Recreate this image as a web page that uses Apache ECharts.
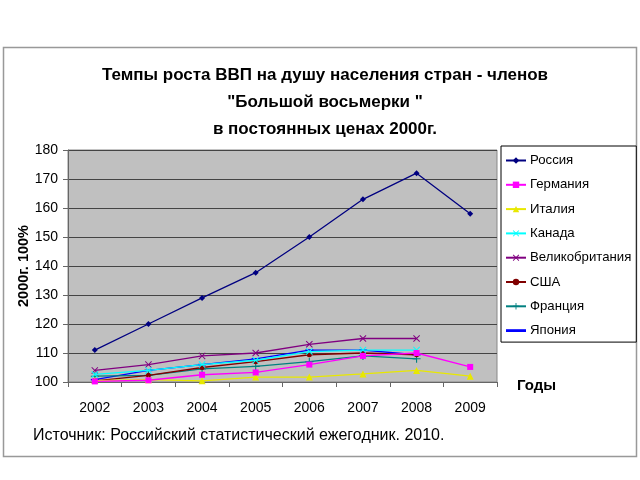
<!DOCTYPE html>
<html><head><meta charset="utf-8">
<script src="https://cdn.jsdelivr.net/npm/echarts@6/dist/echarts.min.js"></script>
<style>html,body{margin:0;padding:0;background:#fff}#c{width:640px;height:480px}</style>
</head><body><div id="c"></div>
<script>
const years = ['2002','2003','2004','2005','2006','2007','2008','2009'];
const names = ['Россия','Германия','Италия','Канада','Великобритания','США','Франция','Япония'];
const russia  = [111, 120, 129, 137.7, 150, 163, 172, 158];
const germany = [100.2, 100.6, 102.5, 103.3, 106, 109, 110, 105.2];
const italy   = [100.5, 100.8, 100.4, 101.7, 101.7, 102.8, 104, 102];
const canada  = [102.6, 104, 106, 107.5, 110.5, 111, 111, null];
const uk      = [104, 106, 109, 110, 113, 115, 115, null];
const usa     = [100.4, 102.3, 105, 107, 109.4, 110, 109.4, null];
const france  = [102, 102.3, 104.5, 105.4, 107, 109, 108, null];
const japan   = [100.8, 104, 106, 108, 111, 111, 109.4, null];
const yTicks = {min: 100, max: 180, step: 10};

const colors = ['#000080','#ff00ff','#e8e800','#00ffff','#800080','#800000','#008080','#0000ff'];
const xPath = 'path://M0,1 L1,0 L5,4 L9,0 L10,1 L6,5 L10,9 L9,10 L5,6 L1,10 L0,9 L4,5 Z';
const plusPath = 'path://M4.3,0 L5.7,0 L5.7,4.3 L10,4.3 L10,5.7 L5.7,5.7 L5.7,10 L4.3,10 L4.3,5.7 L0,5.7 L0,4.3 L4.3,4.3 Z';
const symbols = ['diamond','rect','triangle',xPath,xPath,'circle',plusPath,'rect'];
const sizes = [6,6,7,7,7,5,8,[8,1.5]];
const data = [russia, germany, italy, canada, uk, usa, france, japan];
const font = '"Liberation Sans Narrow","Liberation Sans",Arial,sans-serif';

const series = names.map((n,i)=>({
  name:n, type:'line', data:data[i], symbol:symbols[i], symbolSize:sizes[i],
  showSymbol:true, connectNulls:false,
  lineStyle:{color:colors[i], width:1.3},
  itemStyle:{color:colors[i]},
  z: 10 - i
}));

const chart = echarts.init(document.getElementById('c'));
chart.setOption({
  animation:false,
  backgroundColor:'#fff',
  title:{
    text:'Темпы роста ВВП на душу населения стран - членов\n"Большой восьмерки "\nв постоянных ценах 2000г.',
    left:320, textAlign:'center', top:57,
    textStyle:{fontFamily:font, fontSize:17, fontWeight:'bold', color:'#000', lineHeight:27}
  },
  legend:{
    orient:'vertical', left:501, top:146,
    padding:[8,5,5,4], itemGap:11.3, itemWidth:20, itemHeight:8,
    borderColor:'#000', borderWidth:1, backgroundColor:'#fff',
    textStyle:{fontFamily:font, fontSize:13.2, color:'#000', padding:[0,0,0,-1]},
    data:names.map((n,i)=> i===7 ? {name:n, icon:'path://M0,4.3 L10,4.3 L10,5.7 L0,5.7 Z'} : n)
  },
  grid:{left:68, right:143, top:150, bottom:98, show:true, backgroundColor:'#c0c0c0', borderColor:'#888', borderWidth:1},
  xAxis:{
    type:'category', data:years, boundaryGap:true,
    name:'Годы', nameLocation:'end', nameGap:20,
    nameTextStyle:{fontFamily:font, fontSize:15, fontWeight:'bold', color:'#000', verticalAlign:'top', padding:[-4,0,0,0]},
    axisLine:{lineStyle:{color:'#666'}},
    axisTick:{show:true, length:5, lineStyle:{color:'#666'}},
    axisLabel:{fontFamily:font, fontSize:14, color:'#000', margin:19}
  },
  yAxis:{
    type:'value', min:yTicks.min, max:yTicks.max, interval:yTicks.step,
    name:'2000г. 100%', nameLocation:'middle', nameGap:37, nameRotate:90, nameMoveOverlap:false,
    nameTextStyle:{fontFamily:'"Liberation Sans",Arial,sans-serif', fontSize:14.5, fontWeight:'bold', color:'#000'},
    axisLine:{show:true, lineStyle:{color:'#666'}},
    axisTick:{show:true, length:5, lineStyle:{color:'#666'}},
    axisLabel:{fontFamily:font, fontSize:14, color:'#000', margin:10},
    splitLine:{lineStyle:{color:'#444', width:1}}
  },
  graphic:[
    {type:'rect', shape:{x:3.5, y:47.5, width:633, height:409}, style:{fill:null, stroke:'#999', lineWidth:1.5}, z:-1},
    {type:'text', left:33, top:428, style:{text:'Источник: Российский статистический ежегодник. 2010.', fontFamily:'"Liberation Sans",Arial,sans-serif', fontSize:16, fill:'#000'}}
  ],
  series:series
});
</script></body></html>
